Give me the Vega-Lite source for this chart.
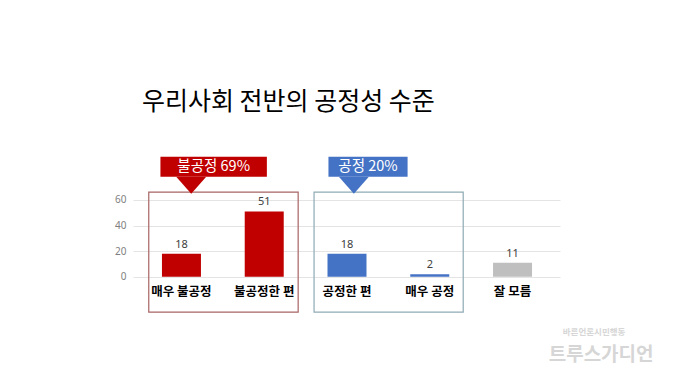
{
  "$schema": "https://vega.github.io/schema/vega-lite/v6.json",
  "autosize": "none",
  "padding": {"left": 133, "top": 141, "right": 120, "bottom": 64},
  "width": 427,
  "height": 178,
  "background": "white",
  "config": {"view": {"stroke": null}, "font": "Noto Sans CJK KR"},
  "title": {
    "text": "우리사회 전반의 공정성 수준",
    "anchor": "start",
    "frame": "group",
    "dx": 9,
    "offset": 1,
    "baseline": "bottom",
    "fontSize": 25,
    "fontWeight": "normal",
    "color": "#000000",
    "font": "Noto Sans CJK KR"
  },
  "datasets": {
    "bars": [
      {"cat": "매우 불공정", "i": 0, "v": 18, "g": "불공정"},
      {"cat": "불공정한 편", "i": 1, "v": 51, "g": "불공정"},
      {"cat": "공정한 편", "i": 2, "v": 18, "g": "공정"},
      {"cat": "매우 공정", "i": 3, "v": 2, "g": "공정"},
      {"cat": "잘 모름", "i": 4, "v": 11, "g": "잘 모름"}
    ],
    "boxes": [
      {"g": "불공정", "label": "불공정 69%", "bx0": -0.395, "bx1": 1.41, "by0": -27.6, "by1": 66.0, "cx0": -0.254, "cx1": 1.032, "cy0": 78.0, "cy1": 93.7, "cx": 0.389, "cy": 85.8, "tx": 0.118, "ty": 71.4},
      {"g": "공정", "label": "공정 20%", "bx0": 1.602, "bx1": 3.404, "by0": -27.6, "by1": 66.0, "cx0": 1.776, "cx1": 2.732, "cy0": 78.0, "cy1": 93.7, "cx": 2.254, "cy": 85.8, "tx": 2.083, "ty": 71.4}
    ],
    "marks": [
      {"text": "바른언론시민행동", "x": 4.985, "y": -43.5, "kind": "small"},
      {"text": "트루스가디언", "x": 5.07, "y": -61, "kind": "big"}
    ]
  },
  "layer": [
    {
      "data": {"name": "boxes"},
      "mark": {"type": "rect", "fill": null, "strokeWidth": 1.2},
      "encoding": {
        "x": {"field": "bx0", "type": "quantitative", "scale": {"domain": [-0.525, 4.513], "nice": false, "zero": false}, "axis": null},
        "x2": {"field": "bx1"},
        "y": {"field": "by0", "type": "quantitative", "scale": {"domain": [-33, 106], "nice": false, "zero": false},
          "axis": {"values": [0, 20, 40, 60], "title": null, "domain": false, "ticks": false, "grid": true, "gridColor": "#e4e4e4", "labelColor": "#7f7f7f", "labelFontSize": 10, "labelPadding": 7, "labelFont": "Noto Sans"}},
        "y2": {"field": "by1"},
        "stroke": {"field": "g", "type": "nominal", "scale": {"domain": ["불공정", "공정"], "range": ["#A86464", "#8FAAB4"]}, "legend": null}
      }
    },
    {
      "data": {"name": "bars"},
      "mark": {"type": "bar", "size": 39},
      "encoding": {
        "x": {"field": "i", "type": "quantitative"},
        "y": {"field": "v", "type": "quantitative"},
        "color": {"field": "g", "type": "nominal", "scale": {"domain": ["불공정", "공정", "잘 모름"], "range": ["#C00000", "#4472C4", "#BFBFBF"]}, "legend": null}
      }
    },
    {
      "data": {"name": "bars"},
      "mark": {"type": "text", "baseline": "middle", "dy": -9, "fontSize": 11, "color": "#404040", "font": "Noto Sans"},
      "encoding": {
        "x": {"field": "i", "type": "quantitative"},
        "y": {"field": "v", "type": "quantitative"},
        "text": {"field": "v", "type": "quantitative"}
      }
    },
    {
      "data": {"name": "bars"},
      "mark": {"type": "text", "baseline": "middle", "dy": 15, "fontSize": 12.5, "fontWeight": "bold", "color": "#000000"},
      "encoding": {
        "x": {"field": "i", "type": "quantitative"},
        "y": {"datum": 0, "type": "quantitative"},
        "text": {"field": "cat", "type": "nominal"}
      }
    },
    {
      "data": {"name": "boxes"},
      "mark": {"type": "rect"},
      "encoding": {
        "x": {"field": "cx0", "type": "quantitative"},
        "x2": {"field": "cx1"},
        "y": {"field": "cy0", "type": "quantitative"},
        "y2": {"field": "cy1"},
        "color": {"field": "g", "type": "nominal", "legend": null}
      }
    },
    {
      "data": {"name": "boxes"},
      "mark": {"type": "point", "filled": true, "opacity": 1, "shape": "M-1,-0.57L1,-0.57L0,0.57Z", "size": 900},
      "encoding": {
        "x": {"field": "tx", "type": "quantitative"},
        "y": {"field": "ty", "type": "quantitative"},
        "color": {"field": "g", "type": "nominal", "legend": null}
      }
    },
    {
      "data": {"name": "boxes"},
      "mark": {"type": "text", "baseline": "middle", "fontSize": 14.5, "color": "white"},
      "encoding": {
        "x": {"field": "cx", "type": "quantitative"},
        "y": {"field": "cy", "type": "quantitative"},
        "text": {"field": "label", "type": "nominal"}
      }
    },
    {
      "data": {"name": "marks"},
      "mark": {"type": "text", "baseline": "middle", "color": "#d6d6d6", "fontWeight": "bold"},
      "encoding": {
        "x": {"field": "x", "type": "quantitative"},
        "y": {"field": "y", "type": "quantitative"},
        "text": {"field": "text", "type": "nominal"},
        "size": {"field": "kind", "type": "nominal", "scale": {"domain": ["small", "big"], "range": [8.5, 19]}, "legend": null}
      }
    }
  ]
}
